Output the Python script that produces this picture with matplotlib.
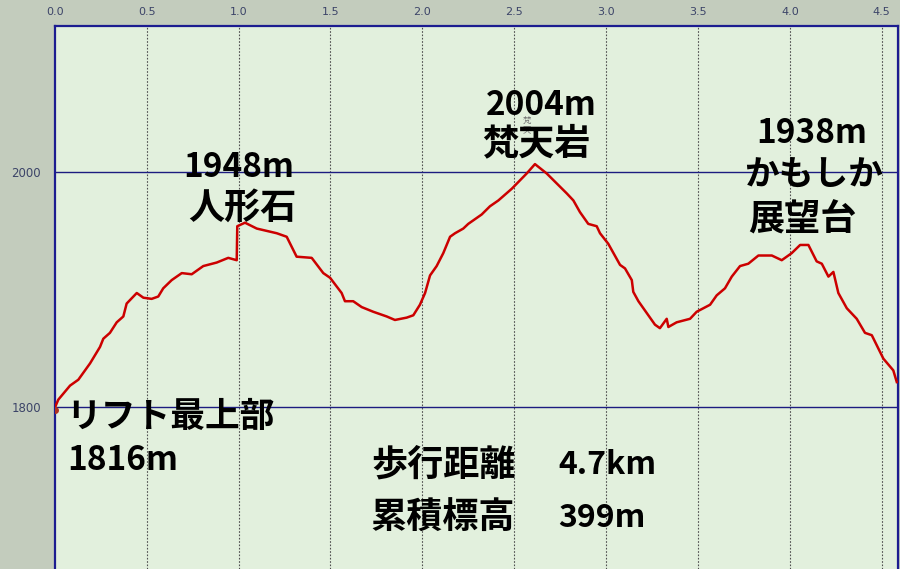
import matplotlib
matplotlib.use("Agg")
import matplotlib.pyplot as plt

plt.rcParams['font.family'] = ['Noto Sans CJK JP', 'DejaVu Sans']

# 距離 (km) と標高 (m)
dist_km = [0.00, 0.019, 0.083, 0.128, 0.192, 0.246, 0.264, 0.300, 0.337, 0.373,
           0.391, 0.446, 0.482, 0.527, 0.563, 0.590, 0.636, 0.691, 0.745, 0.808,
           0.881, 0.944, 0.990, 0.993, 1.035, 1.099, 1.208, 1.262, 1.316, 1.398,
           1.461, 1.498, 1.561, 1.579, 1.624, 1.670, 1.733, 1.806, 1.851, 1.915,
           1.951, 1.987, 2.015, 2.042, 2.078, 2.114, 2.151, 2.178, 2.223, 2.250,
           2.323, 2.368, 2.414, 2.487, 2.568, 2.613, 2.677, 2.786, 2.822, 2.858,
           2.903, 2.949, 2.967, 3.012, 3.076, 3.103, 3.140, 3.148, 3.176, 3.221,
           3.266, 3.293, 3.330, 3.339, 3.384, 3.457, 3.493, 3.566, 3.602, 3.647,
           3.684, 3.729, 3.774, 3.829, 3.902, 3.956, 4.010, 4.056, 4.101, 4.146,
           4.174, 4.210, 4.237, 4.264, 4.310, 4.364, 4.409, 4.446, 4.509, 4.563,
           4.582]
elev_m = [1799, 1806, 1818, 1823, 1837, 1851, 1858, 1863, 1872, 1877,
          1888, 1897, 1893, 1892, 1894, 1901, 1908, 1914, 1913, 1920,
          1923, 1927, 1925, 1954, 1957, 1952, 1948, 1945, 1928, 1927,
          1914, 1910, 1897, 1890, 1890, 1885, 1881, 1877, 1874, 1876,
          1878, 1887, 1897, 1912, 1920, 1931, 1945, 1948, 1952, 1956,
          1964, 1971, 1976, 1986, 1999, 2007, 1999, 1982, 1976, 1966,
          1956, 1954, 1948, 1939, 1921, 1918, 1908, 1898, 1890, 1880,
          1870, 1867, 1875, 1868, 1872, 1875, 1881, 1887, 1895, 1901,
          1911, 1920, 1922, 1929, 1929, 1925, 1931, 1938, 1938, 1924,
          1922, 1911, 1915, 1897, 1884, 1875, 1863, 1861, 1841, 1831,
          1821]

x_ticks = [0.0, 0.5, 1.0, 1.5, 2.0, 2.5, 3.0, 3.5, 4.0, 4.5]
y_ticks = [1800, 2000]

# 地点ラベル (x, y, テキスト, 揃え, サイズ)
labels = [
    (0.06, 1792, 'リフト最上部', 'left', 25),
    (0.07, 1754, '1816m', 'left', 24),
    (1.00, 2004, '1948m', 'center', 24),
    (1.02, 1969, '人形石', 'center', 26),
    (2.65, 2057, '2004m', 'center', 24),
    (2.62, 2024, '梵天岩', 'center', 26),
    (4.12, 2033, '1938m', 'center', 24),
    (4.13, 1998, 'かもしか', 'center', 25),
    (4.07, 1959, '展望台', 'center', 26),
]
# 集計 (項目, 値)
summary_names = ['歩行距離', '累積標高']
summary_values = ['4.7km', '399m']
summary_y = [1750, 1705]

fig = plt.figure(figsize=(9, 5.69), dpi=100)
fig.patch.set_facecolor('#c3ccbd')
ax = fig.add_axes([54.8 / 900, 0.0, (897.7 - 54.8) / 900, 1 - 25.7 / 569])
ax.set_facecolor('#e2f0dd')
ax.set_xlim(0, 4.587)
ax.set_ylim(1661.5, 2125.1)

for xv in x_ticks[1:]:
    ax.axvline(xv, color='#505050', lw=0.8, ls=(0, (1.5, 1.5)), zorder=1)
for yv in y_ticks:
    ax.axhline(yv, color='#1c1c80', lw=1.0, zorder=1)

ax.plot(dist_km, elev_m, color='#cc0000', lw=1.8, zorder=3)
ax.plot([0.0], [1797], marker='o', ms=4, color='#b03020', zorder=4)

for xv, yv, txt, ha, fs in labels:
    ax.text(xv, yv, txt, fontsize=fs, fontweight='bold', ha=ha, va='center',
            color='black', zorder=5)
for name, value, yv in zip(summary_names, summary_values, summary_y):
    ax.text(1.72, yv, name, fontsize=26, fontweight='bold', ha='left',
            va='center', color='black', zorder=5)
    ax.text(2.74, yv, value, fontsize=23, fontweight='bold', ha='left',
            va='center', color='black', zorder=5)
ax.text(2.57, 2040, '梵\n天', fontsize=6, color='#707070', ha='center',
        va='center', linespacing=1.1, zorder=4)

ax.xaxis.tick_top()
ax.set_xticks(x_ticks)
ax.set_xticklabels([f'{v:.1f}' for v in x_ticks], family='DejaVu Sans',
                   fontsize=8, color='#3c4468')
ax.set_yticks(y_ticks)
ax.set_yticklabels([str(v) for v in y_ticks], family='DejaVu Sans',
                   fontsize=8.5, color='#3c4468')
ax.tick_params(axis='x', length=0, pad=6)
ax.tick_params(axis='y', length=0, pad=10)
for side in ['left', 'top', 'right']:
    ax.spines[side].set_color('#1c1c90')
    ax.spines[side].set_linewidth(1.6)
ax.spines['bottom'].set_visible(False)

fig.savefig('out.png', dpi=100, facecolor=fig.get_facecolor())
